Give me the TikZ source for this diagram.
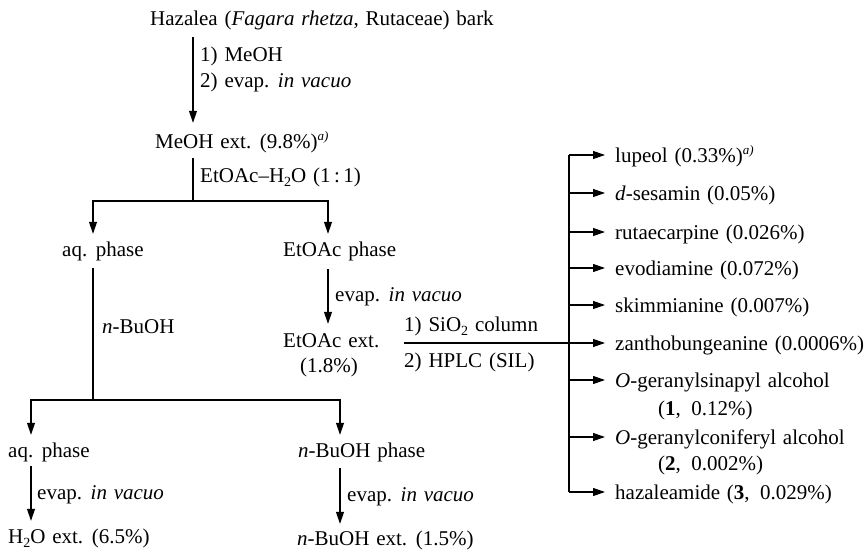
\documentclass[tikz,border=0pt]{standalone}
\usepackage{fontspec}
\setmainfont{Liberation Serif}[WordSpace=1.3]
\usetikzlibrary{arrows.meta}
\newcommand{\mysupa}{\raisebox{0.75ex}{\fontsize{13pt}{13pt}\selectfont\itshape a)}}
\newcommand{\mysubtwo}{\raisebox{-0.45ex}{\fontsize{14pt}{14pt}\selectfont 2}}
\begin{document}
\begin{tikzpicture}[x=1pt,y=-1pt,
  txt/.style={anchor=base west, inner sep=0pt, text height=15pt, text depth=1pt, font=\fontsize{21pt}{25pt}\selectfont},
  itm/.style={txt, inner xsep=10pt},
  ln/.style={line width=1.1pt},
  arr/.style={ln, -{Triangle[length=12pt,width=8pt]}}]
\useasboundingbox (0,0) rectangle (867,551);
% column coordinates
\coordinate (xA) at (193,0);
\coordinate (xL) at (93,0);
\coordinate (xR) at (328,0);
\coordinate (xLL) at (31,0);
\coordinate (xRR) at (340,0);
\coordinate (xB) at (569,0);
\coordinate (yS1) at (0,201);
\coordinate (yS2) at (0,400);
% left part
\node[txt] (haz) at (150,26) {Hazalea (\textit{Fagara rhetza}, Rutaceae) bark};
\node[txt] (c1) at (200,62) {1) MeOH};
\node[txt] (c2) at (200,88) {2) evap. \textit{in vacuo}};
\node[txt] (meoh) at (155,148) {MeOH ext. (9.8\%)\mysupa};
\node[txt] (c3) at (200,182) {EtOAc–H\mysubtwo O (1\,:\,1)};
\node[txt] (aq1) at (62,256) {aq. phase};
\node[txt] (eph) at (283,256) {EtOAc phase};
\node[txt] (c4) at (102,333) {\textit{n}-BuOH};
\node[txt] (c5) at (335,301) {evap. \textit{in vacuo}};
\node[txt] (eext) at (283,347) {EtOAc ext.};
\node[txt] (eextp) at (300,372) {(1.8\%)};
\node[txt] (sio) at (404,331) {1) SiO\mysubtwo\ column};
\node[txt] (hplc) at (404,367) {2) HPLC (SIL)};
\node[txt] (aq2) at (8,457) {aq. phase};
\node[txt] (bph) at (298,457) {\textit{n}-BuOH phase};
\node[txt] (c6) at (37,499) {evap. \textit{in vacuo}};
\node[txt] (c7) at (347,501) {evap. \textit{in vacuo}};
\node[txt] (h2o) at (8,543) {H\mysubtwo O ext. (6.5\%)};
\node[txt] (bext) at (297,545) {\textit{n}-BuOH ext. (1.5\%)};
% right column
\node[itm] (lup) at (605,162) {lupeol (0.33\%)\mysupa};
\node[itm] (ses) at (605,200) {\textit{d}-sesamin (0.05\%)};
\node[itm] (rut) at (605,239) {rutaecarpine (0.026\%)};
\node[itm] (evo) at (605,275) {evodiamine (0.072\%)};
\node[itm] (ski) at (605,312) {skimmianine (0.007\%)};
\node[itm] (zan) at (605,350) {zanthobungeanine (0.0006\%)};
\node[itm] (sin) at (605,387) {\textit{O}-geranylsinapyl alcohol};
\node[txt] (sinp) at (658,415) {(\textbf{1},\enspace 0.12\%)};
\node[itm] (con) at (605,444) {\textit{O}-geranylconiferyl alcohol};
\node[txt] (conp) at (658,470) {(\textbf{2},\enspace 0.002\%)};
\node[itm] (hzm) at (605,499) {hazaleamide (\textbf{3},\enspace 0.029\%)};
% connectors
\coordinate (s1) at (xA |- yS1);
\coordinate (s2) at (xL |- yS2);
\draw[arr, shorten <=10pt, shorten >=10pt] (haz.south -| xA) -- (meoh.north -| xA);
\draw[ln, shorten <=9pt] (meoh.south -| xA) -- (s1);
\draw[arr, shorten >=7pt] (s1) -| (aq1.north -| xL);
\draw[arr, shorten >=7pt] (s1) -| (eph.north -| xR);
\draw[ln, shorten <=11pt] (aq1.south -| xL) -- (s2);
\draw[arr, shorten >=7pt] (s2) -| (aq2.north -| xLL);
\draw[arr, shorten >=7pt] (s2) -| (bph.north -| xRR);
\draw[arr, shorten <=12pt, shorten >=8pt] (eph.south -| xR) -- (eext.north -| xR);
\draw[arr, shorten <=8pt, shorten >=7pt] (aq2.south -| xLL) -- (h2o.north -| xLL);
\draw[arr, shorten <=10pt, shorten >=6pt] (bph.south -| xRR) -- (bext.north -| xRR);
\draw[ln] (lup.west -| xB) -- (hzm.west -| xB);
\draw[arr] (sio.west |- zan.west) -- (zan.west);
\foreach \n in {lup,ses,rut,evo,ski,sin,con,hzm}
  \draw[arr] (\n.west -| xB) -- (\n.west);
\end{tikzpicture}
\end{document}
